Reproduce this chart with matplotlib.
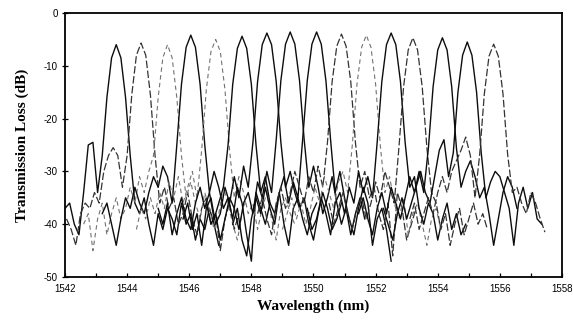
# AWG channel transmission spectra (scanned figure recreation)
import numpy as np
import matplotlib
matplotlib.use("Agg")
import matplotlib.pyplot as plt

# --------------------------
# Data: one trace per output channel, sampled every 0.15 nm
# --------------------------
STEP = 0.15

trace_starts = [1542.0, 1542.05, 1542.6, 1543.2, 1544.3, 1545.0, 1545.8, 1546.55,
                1547.4, 1548.2, 1549.0, 1549.8, 1550.5, 1551.45, 1552.25, 1553.1]

trace_loss = [
    # ch1 1543.65 nm
    [-37, -36, -40, -42, -34, -25, -24.5, -34, -27, -16, -8.5, -6, -8.5, -16, -27, -36,
     -38, -35, -40, -44, -38, -41, -37, -39, -42, -36, -40, -38, -43, -39, -41, -37, -40, -44],
    # ch2 1544.45 nm
    [-39, -41, -44, -38, -36, -37, -34, -36, -30, -27, -25.5, -27, -33, -27, -15.5, -8, -5.7,
     -8, -15.5, -27, -36, -33, -37, -35, -40, -38, -34, -39, -42, -37, -35, -40, -38, -45,
     -39, -36, -41, -38],
    # ch3 1545.30 nm
    [-40, -38, -45, -39, -36, -42, -38, -35, -39, -37, -33, -36, -31, -34, -30, -27, -16,
     -8.5, -6, -8.5, -16, -27, -35, -32, -36, -39, -34, -37, -41, -38, -33, -36, -40, -43,
     -38, -35],
    # ch4 1546.05 nm
    [-38, -36, -40, -44, -39, -35, -37, -33, -36, -38, -34, -31, -33, -29, -31, -36, -25,
     -13.5, -6.5, -4.2, -6.5, -13.5, -25, -34, -30, -33, -37, -35, -39, -33, -36, -42, -47,
     -34, -37, -40, -36],
    # ch5 1546.85 nm
    [-41, -37, -39, -35, -38, -34, -37, -32, -35, -31, -36, -33, -30, -35, -26, -14.5, -7.3,
     -5.0, -7.3, -14.5, -26, -35, -31, -34, -38, -36, -41, -37, -34, -39, -43, -37, -35,
     -38, -40],
    # ch6 1547.70 nm
    [-37, -40, -36, -42, -38, -35, -39, -41, -36, -33, -37, -34, -39, -36, -33, -25, -13.5,
     -6.7, -4.4, -6.7, -13.5, -25, -34, -31, -36, -38, -34, -40, -44, -37, -35, -39, -42,
     -38, -36],
    # ch7 1548.50 nm
    [-39, -36, -41, -38, -44, -37, -35, -40, -38, -33, -36, -31, -35, -29, -33, -24.5, -13,
     -6, -3.8, -6, -13, -24.5, -33, -30, -34, -37, -35, -40, -43, -38, -34, -37, -41, -39,
     -36],
    # ch8 1549.25 nm
    [-36, -40, -38, -43, -39, -35, -37, -41, -36, -34, -38, -32, -35, -30, -34, -24, -12.8,
     -5.9, -3.6, -5.9, -12.8, -24, -33, -29, -33, -38, -35, -31, -36, -40, -37, -42, -38,
     -35, -39],
    # ch9 1550.10 nm
    [-40, -37, -43, -46, -39, -35, -38, -33, -37, -40, -34, -31, -36, -32, -35, -24, -12.8,
     -5.9, -3.6, -5.9, -12.8, -24, -34, -30, -35, -39, -42, -37, -33, -36, -44, -39, -37,
     -41, -47],
    # ch10 1550.90 nm
    [-38, -35, -39, -42, -36, -33, -37, -34, -30, -33, -36, -31, -34, -29, -33, -24.5, -13,
     -6.3, -4.0, -6.3, -13, -24.5, -33, -30, -35, -33, -38, -41, -36, -46, -34, -37, -43,
     -40, -37],
    # ch11 1551.70 nm
    [-41, -38, -35, -39, -36, -40, -37, -33, -36, -31, -34, -37, -32, -30, -34, -25, -13.5,
     -6.5, -4.2, -6.5, -13.5, -25, -34, -31, -36, -39, -35, -42, -38, -36, -40, -44, -39,
     -37, -41],
    # ch12 1552.50 nm
    [-37, -41, -39, -35, -38, -42, -36, -34, -38, -33, -36, -30, -34, -31, -35, -24.5, -13,
     -6, -3.8, -6, -13, -24.5, -33, -31, -37, -40, -36, -38, -43, -39, -36, -41, -38, -42,
     -40],
    # ch13 1553.20 nm
    [-36, -40, -37, -34, -38, -41, -37, -35, -39, -36, -32, -35, -30, -33, -36, -25.5, -14,
     -7, -4.7, -7, -14, -25.5, -34, -36, -41, -38, -44, -40, -37, -42, -39, -36, -40, -38,
     -41],
    # ch14 1554.15 nm
    [-38, -35, -39, -42, -37, -34, -38, -33, -36, -39, -35, -31, -34, -30, -34, -25.5, -14,
     -7, -4.7, -7, -14, -25.5, -33, -30, -28, -31, -35, -33, -38, -44, -39, -34, -31, -33,
     -37],
    # ch15 1554.95 nm
    [-37, -40, -43, -38, -35, -39, -36, -33, -30, -34, -36, -31, -26, -24, -31, -26.5, -15,
     -8, -5.5, -8, -15, -26.5, -35, -32, -30, -31, -34, -37, -44, -36, -33, -37, -34, -39,
     -40],
    # ch16 1555.80 nm
    [-39, -36, -41, -38, -35, -38, -34, -31, -34, -30, -28, -26, -23.5, -27, -35, -26.8,
     -15.3, -8.2, -5.9, -8.2, -15.3, -26.8, -34, -33, -36, -38, -34, -36, -39, -41.5],
]

# line style per trace (solid / dashed / faint dashed as in the scan)
trace_styles = ['s', 'd', 'f', 's', 'f', 's', 's', 's', 's', 'd', 'f', 's', 'd', 's', 's', 'd']

x_ticks = [1542, 1544, 1546, 1548, 1550, 1552, 1554, 1556, 1558]
y_ticks = [0, -10, -20, -30, -40, -50]

style_map = {
    's': dict(color='0.05', linestyle='-', linewidth=1.0),
    'd': dict(color='0.2', linestyle=(0, (6, 2)), linewidth=0.9),
    'f': dict(color='0.45', linestyle=(0, (4, 3)), linewidth=0.8),
}

# --------------------------
# Plot
# --------------------------
fig = plt.figure(figsize=(5.73, 3.24), dpi=100)
ax = fig.add_axes([0.1134, 0.145, 0.8674, 0.815])

for start, vals, st in zip(trace_starts, trace_loss, trace_styles):
    wl = start + STEP * np.arange(len(vals))
    ax.plot(wl, vals, **style_map[st])

ax.set_xlim(1542, 1558)
ax.set_ylim(-50, 0)
ax.set_xticks(x_ticks)
ax.set_xticks(np.arange(1542, 1559, 1), minor=True)
ax.set_yticks(y_ticks)

tick_font = dict(family='Liberation Sans', size=7)
ax.set_xticklabels([str(t) for t in x_ticks], **tick_font)
ax.set_yticklabels([str(t) for t in y_ticks], **tick_font)
ax.tick_params(axis='x', which='both', direction='in', length=3, width=0.9, pad=5)
ax.tick_params(axis='y', which='both', direction='inout', length=4, width=0.9, pad=3)

for sp in ax.spines.values():
    sp.set_linewidth(1.3)

label_font = dict(family='Liberation Serif', weight='bold', size=11)
ax.set_xlabel("Wavelength (nm)", labelpad=4, **label_font)
ax.set_ylabel("Transmission Loss (dB)", labelpad=11, **label_font)

fig.savefig("out.png", dpi=100)
